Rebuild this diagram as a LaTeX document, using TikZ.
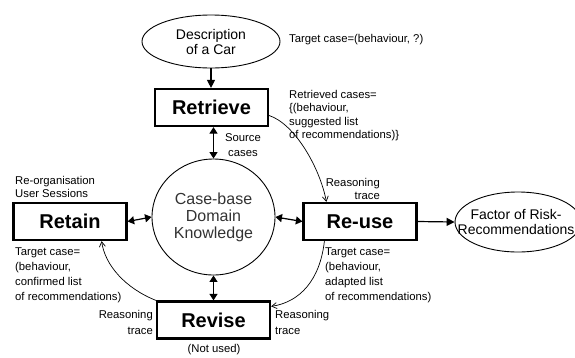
\documentclass[tikz,border=0pt]{standalone}
\usepackage{fontspec}
\setmainfont{Liberation Sans}
\usetikzlibrary{arrows.meta,shapes.geometric}
\begin{document}
\begin{tikzpicture}[x=1pt,y=-1pt,
 box/.style={draw,line width=2.2pt,minimum width=113pt,minimum height=37pt,font=\fontsize{20}{22}\selectfont\bfseries,inner sep=0},
 oval/.style={draw,ellipse,line width=0.9pt,inner sep=0},
 ovaltext/.style={font=\fontsize{14}{15}\selectfont,align=center,inner sep=0},
 lbl/.style={font=\fontsize{11.3}{15}\selectfont,inner sep=0},
 sarrow/.style={line width=1.2pt,-{Triangle[length=8pt,width=8pt]}},
 darrow/.style={line width=1.2pt,{Triangle[length=6.5pt,width=8pt]}-{Triangle[length=6.5pt,width=8pt]}},
 curve/.style={line width=0.7pt,-{Straight Barb[length=5pt,width=6pt]}}
]
\useasboundingbox (0,0) rectangle (575,357);
% main shapes
\node[oval,minimum width=138pt,minimum height=53pt] (desc) at (211,41.5) {};
\node[ovaltext] (desctext) at (desc.center) {Description\\of a Car};
\node[box] (retrieve) at (211.5,107.5) {Retrieve};
\node[draw,ellipse,line width=0.9pt,minimum width=123pt,minimum height=116pt,inner sep=0,
      font=\fontsize{16}{17}\selectfont,align=center,text=black!80] (kb) at (213.5,217) {Case-base\\Domain\\Knowledge};
\node[box] (retain) at (70,221.5) {Retain};
\node[box] (reuse) at (360,221.5) {Re-use};
\node[box] (revise) at (213.5,320) {Revise};
\node[oval,minimum width=126pt,minimum height=60pt] (risk) at (518,222) {};
\node[ovaltext] (risktext) at (516,222) {Factor of Risk-\\Recommendations};
% straight connectors
\draw[sarrow] (desc.south) -- (desc.south |- retrieve.north);
\draw[darrow] (retrieve.south -| kb.north) -- (kb.north);
\draw[darrow] (retain.east) -- (kb.west);
\draw[darrow] (kb.east) -- (reuse.west);
\draw[darrow] (kb.south) -- (kb.south |- revise.north);
\draw[sarrow] (reuse.east) -- (risk.west);
% curved connectors
\draw[curve] ([yshift=-8pt]retrieve.east) .. controls (295,124) and (320,168) .. ([xshift=24pt]reuse.north west);
\draw[curve] ([xshift=22pt]reuse.south west) .. controls (320,280) and (300,302) .. ([yshift=-6pt]revise.north east);
\draw[curve] (revise.north west) .. controls (125,288) and (105,265) .. ([xshift=-26pt]retain.south east);
% labels (base anchor of a multi-line node = baseline of its last line)
\node[lbl,anchor=base west] (tc1) at (289,42) {Target case=(behaviour, ?)};
\node[lbl,anchor=base west,align=left,font=\fontsize{11.3}{13.5}\selectfont] (rc) at (289,138.5) {Retrieved cases=\\\{(behaviour,\\suggested list\\of recommendations)\}};
\node[lbl,anchor=base,align=center,font=\fontsize{11.3}{15}\selectfont] (src) at (243,156) {Source\\cases};
\node[lbl,anchor=base west,align=left,font=\fontsize{11.3}{13}\selectfont] (reorg) at (15,197) {Re-organisation\\User Sessions};
\node[lbl,anchor=base east,align=right,font=\fontsize{11.3}{13}\selectfont] (rt1) at (380,199) {Reasoning\\trace};
\node[lbl,anchor=base west,align=left] (tcl) at (15,300) {Target case=\\(behaviour,\\confirmed list\\of recommendations)};
\node[lbl,anchor=base west,align=left] (tcr) at (325,300) {Target case=\\(behaviour,\\adapted list\\of recommendations)};
\node[lbl,anchor=base east,align=right,font=\fontsize{11.3}{16}\selectfont] (rt2) at (153,334) {Reasoning\\trace};
\node[lbl,anchor=base west,align=left,font=\fontsize{11.3}{16}\selectfont] (rt3) at (275,334) {Reasoning\\trace};
\node[lbl,anchor=center] (notused) at (214,350) {(Not used)};
\end{tikzpicture}
\end{document}
